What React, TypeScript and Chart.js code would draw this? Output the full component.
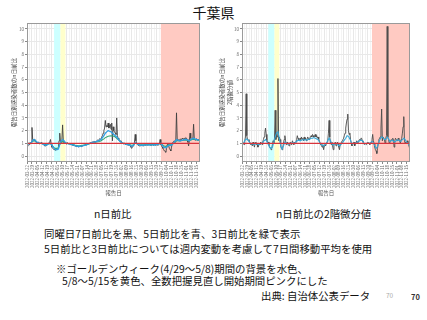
import React, { useEffect, useRef } from 'react';
import { Chart, registerables } from 'chart.js';
Chart.register(...registerables);

const FONT = '"Noto Sans CJK JP", "Noto Sans", sans-serif';

const START_DATE = '2022-03-22';
const LAST_DAY = 243;
const TICK_LABELS = [
  '2022-03-22', '2022-03-29', '2022-04-05', '2022-04-12', '2022-04-19', '2022-04-26', '2022-05-03',
  '2022-05-10', '2022-05-17', '2022-05-24', '2022-05-31', '2022-06-07', '2022-06-14', '2022-06-21',
  '2022-06-28', '2022-07-05', '2022-07-12', '2022-07-19', '2022-07-26', '2022-08-02', '2022-08-09',
  '2022-08-16', '2022-08-23', '2022-08-30', '2022-09-06', '2022-09-13', '2022-09-20', '2022-09-27',
  '2022-10-04', '2022-10-11', '2022-10-18', '2022-10-25', '2022-11-01', '2022-11-08', '2022-11-15',
];
const BAND_STARTS = ['2022-04-29', '2022-05-08', '2022-09-26'];
const BAND_ENDS = ['2022-05-08', '2022-05-15', '2022-11-20'];
const BAND_COLORS = ['#ccffff', '#ffffcc', '#ffcac2'];
const REF_LEVEL = 1;

// daily, same-weekday 7-day ratio (black)
const LEFT_RATIO7 = [
  0.75, 0.8, 0.85, 0.9, 0.95, 1.0, 1.1,
  2.25, 1.3, 1.25, 1.3, 1.2, 1.15, 1.05,
  1.0, 1.05, 1.1, 1.0, 0.95, 1.0, 1.05,
  1.0, 0.95, 0.9, 0.85, 0.8, 0.78, 0.85,
  0.9, 0.95, 1.0, 1.05, 1.1, 1.3, 0.9,
  0.7, 0.6, 0.55, 0.5, 0.55, 0.45, 0.5,
  0.55, 0.5, 0.6, 1.2, 1.8, 1.1, 1.0,
  1.3, 2.45, 1.2, 1.0, 1.05, 1.0, 0.95,
  1.0, 1.05, 0.95, 1.0, 0.95, 0.9, 0.92,
  0.88, 0.85, 0.85, 0.8, 0.82, 0.78, 0.75,
  0.8, 0.75, 0.72, 0.78, 0.75, 0.8, 0.78,
  0.75, 0.8, 0.82, 0.85, 0.85, 0.9, 0.88,
  0.92, 0.95, 0.98, 1.0, 1.0, 1.05, 1.1,
  1.05, 1.1, 1.1, 1.15, 1.12, 1.1, 1.15,
  1.2, 1.25, 1.2, 1.3, 1.35, 1.3, 1.4,
  1.5, 1.6, 1.8, 2.0, 2.2, 2.8, 2.3,
  2.4, 2.3, 2.6, 2.2, 2.4, 2.5, 2.1,
  2.6, 1.2, 2.3, 2.0, 1.9, 1.8, 1.7,
  3.0, 1.6, 1.4, 1.3, 1.2, 1.2, 1.1,
  1.05, 1.0, 1.0, 0.95, 1.0, 0.95, 0.9,
  0.9, 0.88, 0.85, 0.9, 0.88, 0.8, 0.7,
  0.6, 0.7, 0.8, 0.9, 1.1, 1.7, 1.2,
  1.0, 0.9, 0.85, 0.85, 0.8, 0.82, 0.8,
  0.85, 0.82, 0.8, 0.85, 0.88, 0.85, 0.9,
  0.88, 0.85, 0.9, 0.88, 0.92, 0.85, 0.88,
  0.85, 0.9, 0.88, 0.85, 0.9, 0.88, 0.85,
  0.9, 0.88, 0.85, 0.9, 0.95, 1.3, 0.9,
  0.8, 0.7, 0.6, 0.5, 0.4, 0.35, 0.3,
  0.6, 0.9, 1.0, 0.8, 0.6, 0.5, 0.4,
  0.7, 1.0, 1.1, 1.15, 1.2, 1.1, 1.2,
  3.4, 1.3, 1.2, 1.25, 1.3, 1.2, 1.35,
  1.3, 1.4, 1.35, 1.3, 1.4, 1.35, 1.45,
  1.4, 1.3, 1.1, 0.8, 1.2, 1.8, 1.4,
  1.3, 1.35, 1.4, 2.5, 1.3, 1.25, 1.3,
  1.35, 1.3, 1.25, 1.3, 1.2, 1.25,
];

// every 2 days, 5-day ratio (blue, 7-day mean)
const LEFT_RATIO5 = [
  0.9, 0.95, 1.0, 1.05, 1.25, 1.3, 1.2, 1.1, 1.05, 1.0,
  1.0, 0.95, 0.9, 0.85, 0.88, 0.95, 1.0, 0.95, 0.75, 0.6,
  0.5, 0.5, 0.55, 0.9, 1.2, 1.3, 1.2, 1.05, 1.0, 0.98,
  0.95, 0.92, 0.88, 0.85, 0.8, 0.78, 0.75, 0.76, 0.78, 0.8,
  0.83, 0.86, 0.9, 0.95, 1.0, 1.03, 1.07, 1.1, 1.12, 1.15,
  1.2, 1.25, 1.3, 1.45, 1.6, 1.8, 1.9, 2.0, 1.95, 1.9,
  1.8, 1.7, 1.6, 1.5, 1.35, 1.2, 1.1, 1.02, 0.98, 0.95,
  0.92, 0.9, 0.86, 0.8, 0.78, 0.9, 1.05, 1.0, 0.92, 0.88,
  0.85, 0.85, 0.86, 0.87, 0.88, 0.88, 0.87, 0.88, 0.88, 0.87,
  0.88, 0.9, 0.92, 0.98, 1.0, 0.85, 0.7, 0.65, 0.68, 0.8,
  0.85, 0.82, 0.9, 1.05, 1.15, 1.3, 1.25, 1.2, 1.22, 1.25,
  1.28, 1.3, 1.3, 1.25, 1.2, 1.3, 1.35, 1.4, 1.35, 1.3,
  1.28, 1.25,
];

// every 2 days, 3-day ratio (green, 7-day mean)
const LEFT_RATIO3 = [
  0.95, 1.0, 1.0, 1.05, 1.15, 1.2, 1.15, 1.08, 1.03, 1.0,
  1.0, 0.97, 0.93, 0.9, 0.9, 0.95, 0.98, 0.95, 0.8, 0.65,
  0.6, 0.6, 0.65, 0.9, 1.1, 1.15, 1.1, 1.02, 1.0, 0.97,
  0.95, 0.92, 0.9, 0.88, 0.85, 0.83, 0.8, 0.8, 0.82, 0.84,
  0.86, 0.88, 0.9, 0.93, 0.96, 1.0, 1.02, 1.05, 1.08, 1.1,
  1.12, 1.15, 1.2, 1.28, 1.35, 1.45, 1.5, 1.55, 1.58, 1.6,
  1.58, 1.55, 1.5, 1.4, 1.3, 1.2, 1.1, 1.03, 1.0, 0.97,
  0.95, 0.93, 0.9, 0.87, 0.85, 0.9, 1.0, 0.98, 0.93, 0.9,
  0.88, 0.88, 0.88, 0.89, 0.9, 0.9, 0.89, 0.9, 0.9, 0.89,
  0.9, 0.92, 0.94, 0.97, 1.0, 0.9, 0.8, 0.75, 0.78, 0.85,
  0.9, 0.88, 0.92, 1.0, 1.1, 1.2, 1.2, 1.18, 1.2, 1.22,
  1.25, 1.25, 1.25, 1.22, 1.2, 1.25, 1.3, 1.32, 1.3, 1.28,
  1.25, 1.22,
];

// daily, second-order value of the 7-day ratio (dark gray)
const RIGHT_DIFF7 = [
  0.8, 0.8, 1.0, 0.9, 1.2, 1.5, 4.9,
  1.6, 1.3, 1.2, 1.3, 1.1, 1.0, 0.9,
  1.0, 0.8, 1.1, 0.9, 0.7, 1.0, 1.1,
  0.9, 1.0, 0.7, 0.8, 1.0, 0.9, 1.1,
  1.0, 0.9, 1.1, 1.3, 1.5, 1.8, 2.2,
  1.7, 1.2, 1.1, 1.1, 0.9, 0.7, 0.6,
  0.5, 0.6, 0.9, 1.2, 1.0, 1.4, 3.6,
  1.3, 1.8, 1.5, 6.1, 1.2, 1.5, 1.3,
  0.8, 0.6, 0.5, 0.7, 1.0, 1.3, 1.6,
  1.2, 0.9, 1.0, 1.1, 0.9, 0.8, 1.0,
  1.1, 0.9, 1.0, 1.2, 1.0, 0.9, 1.1,
  1.0, 1.1, 1.3, 1.6, 1.4, 1.2, 1.3,
  1.4, 1.3, 1.5, 1.3, 1.4, 1.2, 1.5,
  1.3, 1.4, 1.2, 1.3, 1.5, 1.4, 1.3,
  1.4, 1.5, 1.6, 1.5, 1.7, 1.6, 1.5,
  1.6, 1.7, 1.5, 1.6, 1.4, 1.5, 1.3,
  1.2, 1.0, 0.9, 0.8, 0.7, 0.9, 0.5,
  0.8, 0.9, 0.8, 1.0, 1.1, 1.2, 1.8,
  2.8, 1.5, 1.0, 0.9, 1.1, 0.8, 0.5,
  0.9, 1.0, 1.1, 0.8, 0.9, 1.1, 1.0,
  0.7, 0.5, 0.9, 1.0, 1.1, 1.2, 1.3,
  1.4, 1.6, 1.8, 2.2, 2.6, 2.9, 3.3,
  2.0, 1.7, 1.8, 1.3, 1.0, 0.8, 0.9,
  1.0, 1.1, 0.8, 0.9, 1.1, 1.2, 1.0,
  1.1, 1.2, 1.3, 1.3, 1.4, 1.4, 1.2,
  1.1, 1.0, 0.9, 1.0, 1.0, 0.9, 1.0,
  1.1, 1.0, 0.95, 0.9, 1.0, 1.1, 1.3,
  1.7, 1.2, 1.0, 0.7, 0.5, 0.4, 0.2,
  0.6, 1.0, 1.3, 1.4, 1.5, 2.2, 3.7,
  1.2, 1.5, 1.5, 1.3, 1.0, 1.4, 1.6,
  10.2, 1.5, 1.3, 1.0, 1.1, 1.2, 1.3,
  1.2, 1.4, 1.3, 0.7, 1.2, 1.4, 1.3,
  1.3, 1.2, 1.4, 1.3, 1.2, 1.0, 1.3,
  1.4, 1.8, 2.3, 3.1, 1.2, 1.0, 1.1,
  1.0, 1.2, 1.0, 0.9, 0.7, 0.5,
];

// every 2 days, second-order value of the 5-day ratio (blue)
const RIGHT_DIFF5 = [
  0.9, 1.0, 1.2, 1.35, 1.3, 1.15, 1.0, 0.95, 0.95, 0.9,
  1.0, 0.95, 0.9, 0.95, 1.0, 1.05, 1.2, 1.3, 1.15, 0.9,
  0.7, 0.6, 0.7, 1.1, 1.5, 1.8, 1.9, 1.4, 0.8, 0.55,
  0.8, 1.1, 1.05, 0.95, 0.95, 1.0, 1.0, 1.05, 1.0, 1.1,
  1.2, 1.25, 1.2, 1.25, 1.3, 1.25, 1.3, 1.25, 1.3, 1.35,
  1.4, 1.4, 1.45, 1.4, 1.35, 1.3, 1.1, 0.95, 0.85, 0.8,
  0.9, 1.0, 1.2, 1.4, 1.2, 0.95, 0.85, 0.95, 1.0, 0.95,
  0.8, 0.85, 1.0, 1.1, 1.25, 1.4, 1.6, 1.55, 1.35, 1.1,
  0.95, 1.0, 1.0, 1.05, 1.15, 1.2, 1.25, 1.2, 1.05, 0.95,
  1.0, 1.0, 1.0, 1.05, 1.15, 1.05, 0.8, 0.6, 0.75, 1.1,
  1.35, 1.5, 1.45, 1.3, 1.3, 1.5, 1.35, 1.15, 1.2, 1.25,
  1.1, 1.15, 1.25, 1.25, 1.2, 1.15, 1.3, 1.4, 1.3, 1.1,
  1.0, 0.85,
];

const dayOf = (d: string) => Math.round((Date.parse(d) - Date.parse(START_DATE)) / 86400000);
const pts = (vals: number[], step: number) => vals.map((v, i) => ({ x: i * step, y: v }));

const bandPlugin = {
  id: 'bands',
  beforeDatasetsDraw(chart: any) {
    const { ctx, chartArea } = chart;
    const xs = chart.scales.x;
    ctx.save();
    BAND_STARTS.forEach((s, i) => {
      const x1 = Math.max(chartArea.left, xs.getPixelForValue(dayOf(s)));
      const x2 = Math.min(chartArea.right, xs.getPixelForValue(dayOf(BAND_ENDS[i])));
      ctx.fillStyle = BAND_COLORS[i];
      ctx.fillRect(x1, chartArea.top, x2 - x1, chartArea.bottom - chartArea.top);
    });
    ctx.restore();
  },
};

const framePlugin = {
  id: 'frame',
  afterDraw(chart: any) {
    const { ctx, chartArea } = chart;
    ctx.save();
    ctx.strokeStyle = '#9a9a9a';
    ctx.lineWidth = 1;
    ctx.strokeRect(Math.round(chartArea.left) + 0.5, Math.round(chartArea.top) + 0.5,
      Math.round(chartArea.right - chartArea.left) - 1, Math.round(chartArea.bottom - chartArea.top) - 1);
    ctx.restore();
  },
};

function makeConfig(datasets: any[], yTitle: string | string[], yWidth: number, padRight: number, titlePadTop: number, titleLH: number) {
  const xTicks: { value: number }[] = [];
  for (let v = 0; v <= LAST_DAY; v += 3.5) xTicks.push({ value: v });
  const yTicks: { value: number }[] = [];
  for (let v = 0; v <= 10; v += 0.5) yTicks.push({ value: v });
  const isMajorX = (v: number) => Math.abs(v / 7 - Math.round(v / 7)) < 1e-6;
  const isMajorY = (v: number) => Math.abs(v - Math.round(v)) < 1e-6;
  return {
    type: 'line',
    data: { datasets },
    options: {
      animation: false,
      responsive: false,
      devicePixelRatio: 1,
      layout: { padding: { top: 5, right: padRight, left: 0, bottom: 0 } },
      plugins: { legend: { display: false }, tooltip: { enabled: false } },
      elements: { point: { radius: 0 }, line: { tension: 0 } },
      scales: {
        x: {
          type: 'linear',
          min: 0,
          max: LAST_DAY,
          afterBuildTicks: (s: any) => { s.ticks = xTicks.map(t => ({ ...t })); },
          afterFit: (s: any) => { s.height = 42; },
          ticks: {
            autoSkip: false,
            minRotation: 90,
            maxRotation: 90,
            padding: 1,
            color: '#6a6a6a',
            font: { size: 4.5, family: FONT },
            callback: (v: number) => (isMajorX(v) ? TICK_LABELS[Math.round(v / 7)] || '' : ''),
          },
          grid: {
            color: (c: any) => (isMajorX(c.tick.value) ? '#e8e8e8' : '#f4f4f4'),
            lineWidth: 1,
            tickLength: 2,
            tickColor: (c: any) => (isMajorX(c.tick.value) ? '#888' : 'rgba(0,0,0,0)'),
          },
          border: { display: false },
          title: {
            display: true,
            text: '報告日',
            color: '#555',
            font: { size: 5.5, family: FONT, lineHeight: 1.2 },
            padding: { top: 0, bottom: 7.5 },
          },
        },
        y: {
          type: 'linear',
          min: -0.47,
          max: 10.47,
          afterBuildTicks: (s: any) => { s.ticks = yTicks.map(t => ({ ...t })); },
          afterFit: (s: any) => { s.width = yWidth; },
          ticks: {
            padding: 1,
            color: '#6a6a6a',
            font: { size: 4.5, family: FONT },
            callback: (v: number) => (isMajorY(v) ? String(Math.round(v)) : ''),
          },
          grid: {
            color: (c: any) => (isMajorY(c.tick.value) ? '#e8e8e8' : '#f4f4f4'),
            lineWidth: 1,
            tickLength: 2,
            tickColor: (c: any) => (isMajorY(c.tick.value) ? '#888' : 'rgba(0,0,0,0)'),
          },
          border: { display: false },
          title: {
            display: true,
            text: yTitle,
            color: '#444',
            font: { size: 5.5, family: FONT, lineHeight: titleLH },
            padding: { top: titlePadTop, bottom: 0 },
          },
        },
      },
    },
    plugins: [bandPlugin, framePlugin],
  };
}

function ChartBox(props: { left: number; top: number; width: number; height: number; build: () => any }) {
  const ref = useRef<HTMLCanvasElement>(null);
  useEffect(() => {
    const chart = new Chart(ref.current as HTMLCanvasElement, props.build());
    return () => chart.destroy();
  }, []);
  return (
    <div style={{ position: 'absolute', left: props.left, top: props.top, width: props.width, height: props.height }}>
      <canvas ref={ref} width={props.width} height={props.height} style={{ display: 'block' }} />
    </div>
  );
}

const refLine = () => ({ data: [{ x: 0, y: REF_LEVEL }, { x: LAST_DAY, y: REF_LEVEL }], borderColor: '#d8343c', borderWidth: 1.2 });

const buildLeft = () => makeConfig([
  refLine(),
  { data: pts(LEFT_RATIO5, 2), borderColor: '#2e9fe6', borderWidth: 1.3 },
  { data: pts(LEFT_RATIO3, 2), borderColor: '#35a878', borderWidth: 1.1 },
  { data: pts(LEFT_RATIO7, 1), borderColor: '#404040', borderWidth: 0.9 },
], '報告日別感染者数のn日前比', 27, 13, 10.7, 1.2);

const buildRight = () => makeConfig([
  refLine(),
  { data: pts(RIGHT_DIFF5, 2), borderColor: '#36a8d8', borderWidth: 1.1 },
  { data: pts(RIGHT_DIFF7, 1), borderColor: '#4a4a4a', borderWidth: 0.9 },
], ['報告日別感染者数のn日前比', '2階微分値'], 29, 17, 5, 1.5);

const txt = (left: number, top: number, size: number, text: string, extra: any = {}) => (
  <div style={{ position: 'absolute', left, top, fontSize: size, lineHeight: 1, whiteSpace: 'nowrap', color: '#111', fontFamily: FONT, ...extra }}>{text}</div>
);

export default function App() {
  return (
    <div style={{ position: 'fixed', left: 0, top: 0, width: 427, height: 320, background: '#fff', overflow: 'hidden' }}>
      <div style={{ position: 'absolute', left: 0, top: 5, width: 427, textAlign: 'center', fontSize: 14, lineHeight: 1, fontFamily: FONT, color: '#111' }}>千葉県</div>
      <ChartBox left={0} top={18} width={213} height={186} build={buildLeft} />
      <ChartBox left={213} top={18} width={214} height={186} build={buildRight} />
      {txt(94, 209, 10.4, 'n日前比')}
      {txt(276, 209, 10.4, 'n日前比の2階微分値')}
      {txt(44, 229, 10.4, '同曜日7日前比を黒、5日前比を青、3日前比を緑で表示')}
      {txt(44, 244, 10.4, '5日前比と3日前比については週内変動を考慮して7日間移動平均を使用')}
      {txt(56, 264, 10.4, '※ゴールデンウィーク(4/29〜5/8)期間の背景を水色、')}
      {txt(62, 276, 10.4, '5/8〜5/15を黄色、全数把握見直し開始期間ピンクにした')}
      {txt(261, 291, 10.4, '出典: 自治体公表データ')}
      {txt(386, 292, 6.5, '70', { color: '#aaa' })}
      {txt(411, 293, 7.5, '70', { color: '#333', fontWeight: 'bold' })}
    </div>
  );
}
